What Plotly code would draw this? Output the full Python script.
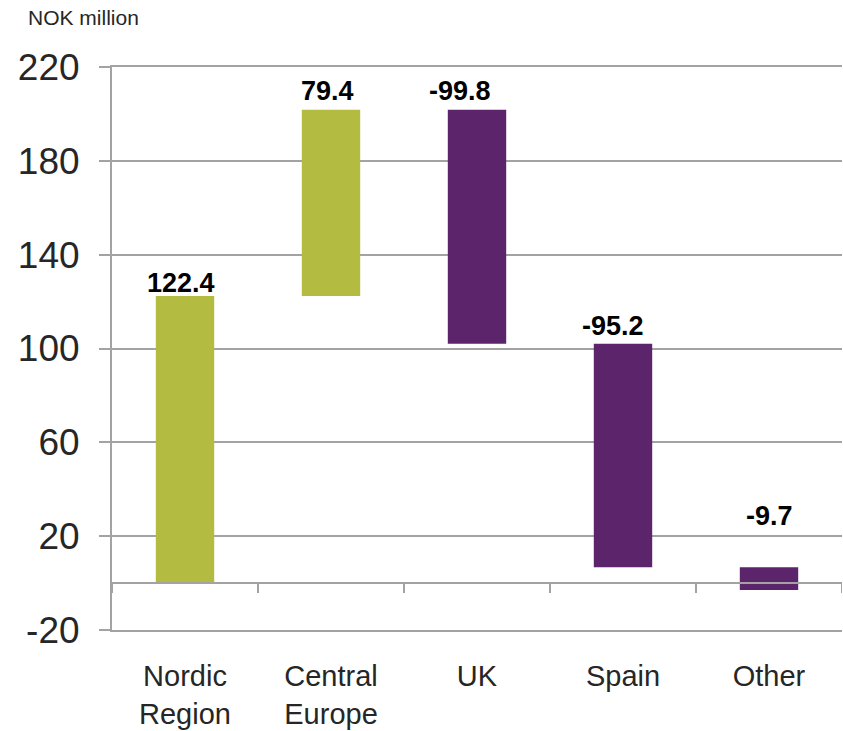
import plotly.graph_objects as go

# Change in NOK million by region
categories = ["Nordic<br>Region", "Central<br>Europe", "UK", "Spain", "Other"]
changes = [122.4, 79.4, -99.8, -95.2, -9.7]
value_labels = ["122.4", "79.4", "-99.8", "-95.2", "-9.7"]
y_ticks = [-20, 20, 60, 100, 140, 180, 220]

# Label placement tweaks (pixels): horizontal nudge and gap above bar top
label_xshift = [-4, -4, -17, -10, 0]
label_gap = [13, 19, 19, 18, 51]

GREEN = "#B4BB41"
PURPLE = "#5B246B"
GRID = "#A3A3A3"
TEXT = "#262626"
FONT = "Liberation Sans, Arial, sans-serif"

W, H = 843, 731
ML, MR, MT, MB = 112, 1, 67, 101

fig = go.Figure(
    go.Waterfall(
        x=categories,
        y=changes,
        measure=["relative"] * len(changes),
        width=0.4,
        increasing=dict(marker=dict(color=GREEN, line=dict(width=0))),
        decreasing=dict(marker=dict(color=PURPLE, line=dict(width=0))),
        connector=dict(visible=False),
        hoverinfo="x+y",
        showlegend=False,
    )
)

# Value labels above each floating bar
annotations = []
running = 0.0
for i, (cat, d, lab) in enumerate(zip(categories, changes, value_labels)):
    top = max(running, running + d)
    running += d
    annotations.append(dict(
        x=cat, y=top, xref="x", yref="y",
        text=f"<b>{lab}</b>", showarrow=False,
        yanchor="middle", xanchor="center",
        xshift=label_xshift[i], yshift=label_gap[i],
        font=dict(family=FONT, size=27, color="#000000"),
    ))

# Unit label in the top-left corner (paper coords derived from pixel spots)
pw, ph = W - ML - MR, H - MT - MB
annotations.append(dict(
    x=(26 - ML) / pw, y=1 + (MT - 18) / ph, xref="paper", yref="paper",
    text="NOK million", showarrow=False, xanchor="left", yanchor="middle",
    font=dict(family=FONT, size=21, color=TEXT),
))

shapes = []
# category axis line crossing at zero, drawn over the bars
shapes.append(dict(
    type="line", xref="x domain", yref="y", x0=0, x1=1, y0=0, y1=0,
    line=dict(color=GRID, width=2), layer="above",
))
# tick marks at category boundaries on the zero line
for b in range(len(categories) + 1):
    shapes.append(dict(
        type="line", xref="x", yref="y", x0=b - 0.5, x1=b - 0.5,
        ysizemode="pixel", yanchor=0, y0=0, y1=-10,
        line=dict(color=GRID, width=2), layer="above",
    ))

fig.update_layout(
    width=W, height=H,
    margin=dict(l=ML, r=MR, t=MT, b=MB, autoexpand=False),
    paper_bgcolor="white", plot_bgcolor="white",
    font=dict(family=FONT, color=TEXT),
    annotations=annotations,
    shapes=shapes,
)

fig.update_yaxes(
    range=[-20, 220], tickvals=y_ticks, ticktext=[str(v) for v in y_ticks],
    showgrid=True, gridcolor=GRID, gridwidth=2,
    zeroline=False,
    showline=True, linecolor=GRID, linewidth=2,
    ticks="outside", ticklen=11, tickcolor=GRID, tickwidth=2,
    ticklabelstandoff=12, automargin=False,
    tickfont=dict(family=FONT, size=37, color=TEXT),
)
fig.update_xaxes(
    type="category", range=[-0.5, len(categories) - 0.5],
    showgrid=False, zeroline=False,
    showline=True, linecolor=GRID, linewidth=2, mirror=True,
    ticks="", ticklabelstandoff=19, automargin=False,
    tickfont=dict(family=FONT, size=29, color=TEXT),
)

fig.write_html("out.html")
